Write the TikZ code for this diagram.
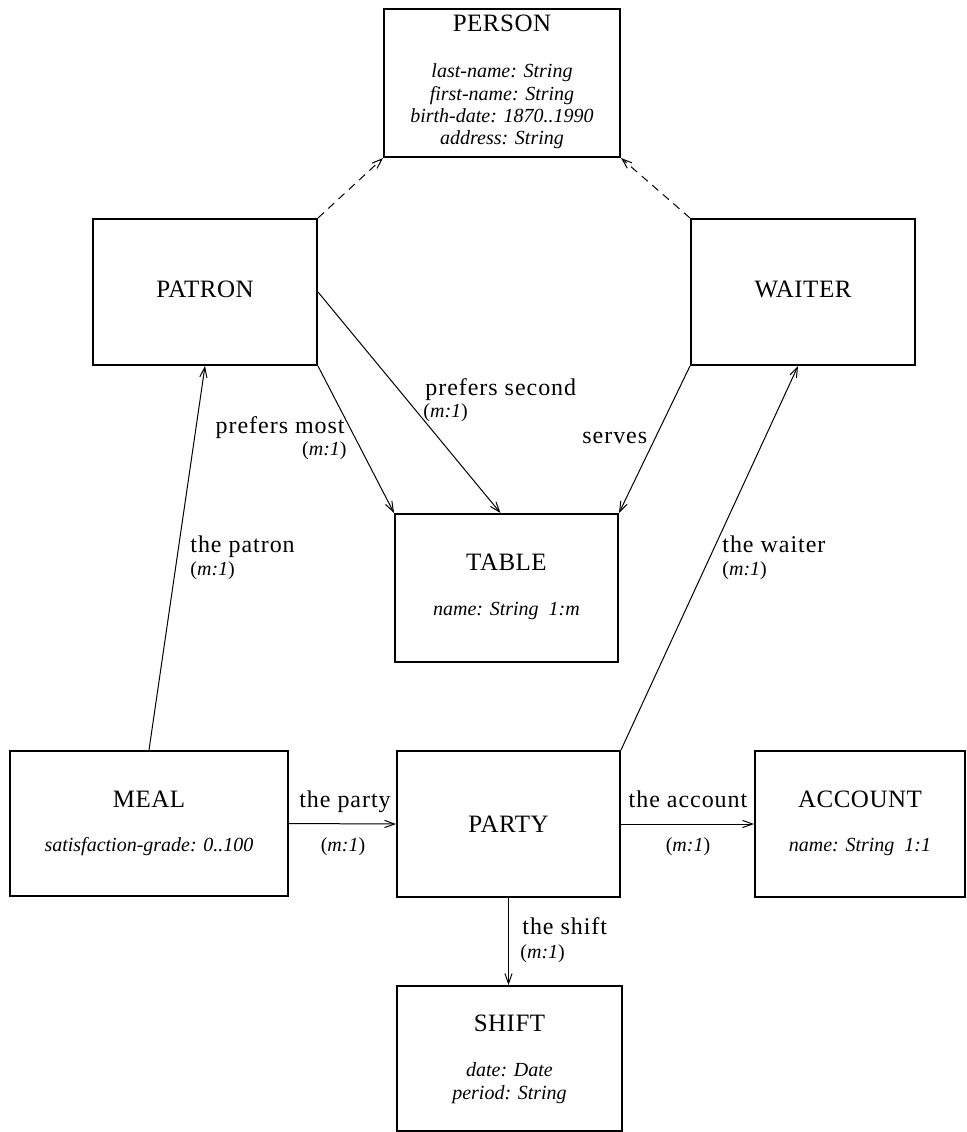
\documentclass[tikz,border=0pt]{standalone}
\usepackage{fontspec}
\setmainfont{Liberation Serif}
\newfontfamily\ttlfont[LetterSpace=2]{Liberation Serif}
\newfontfamily\lblfont[LetterSpace=4]{Liberation Serif}
\usetikzlibrary{arrows.meta}
\begin{document}
\begin{tikzpicture}[x=0.5pt,y=-0.5pt,
  ebox/.style={draw, line width=1pt, inner sep=0pt},
  ttl/.style={font=\ttlfont\fontsize{12.5}{15}\selectfont, anchor=base, inner sep=0pt},
  attr/.style={font=\itshape\fontsize{10}{12}\selectfont, anchor=base, inner sep=0pt},
  lbl/.style={font=\lblfont\fontsize{12}{14}\selectfont, inner sep=0pt},
  card/.style={font=\fontsize{10}{12}\selectfont, inner sep=0pt},
  rel/.style={line width=0.5pt, -{Straight Barb[length=5pt,width=3.6pt]}},
  isa/.style={rel, dash pattern=on 4pt off 3pt}]
\useasboundingbox (0,0) rectangle (966,1132);

% boxes
\node[ebox, minimum width=118pt, minimum height=74pt] (person) at (502,83) {};
\node[ebox, minimum width=112pt, minimum height=73pt] (patron) at (205,292) {};
\node[ebox, minimum width=112pt, minimum height=73pt] (waiter) at (803,292) {};
\node[ebox, minimum width=111.5pt, minimum height=74pt] (table) at (506.5,588) {};
\node[ebox, minimum width=139pt, minimum height=72.5pt] (meal) at (149,823.5) {};
\node[ebox, minimum width=111.5pt, minimum height=73pt] (party) at (508.5,824) {};
\node[ebox, minimum width=105pt, minimum height=73pt] (account) at (860,824) {};
\node[ebox, minimum width=112.5pt, minimum height=72.5pt] (shift) at (509.5,1058.5) {};

% titles and attributes
\node[ttl] (personT) at (502,31) {PERSON};
\node[attr] (personA1) at (502,77) {last-name: String};
\node[attr] (personA2) at (502,100) {first-name: String};
\node[attr] (personA3) at (502,122) {birth-date: 1870..1990};
\node[attr] (personA4) at (502,144) {address: String};
\node[ttl] (patronT) at (205,297) {PATRON};
\node[ttl] (waiterT) at (803,297) {WAITER};
\node[ttl] (tableT) at (506.5,570) {TABLE};
\node[attr] (tableA) at (506.5,615) {name: String~~1:m};
\node[ttl] (mealT) at (149,807) {MEAL};
\node[attr] (mealA) at (149,851) {satisfaction-grade: 0..100};
\node[ttl] (partyT) at (508.5,832) {PARTY};
\node[ttl] (accountT) at (860,807) {ACCOUNT};
\node[attr] (accountA) at (860,851) {name: String~~1:1};
\node[ttl] (shiftT) at (509.5,1031) {SHIFT};
\node[attr] (shiftA1) at (509.5,1076) {date: Date};
\node[attr] (shiftA2) at (509.5,1099) {period: String};

% connectors
\draw[isa] (patron.north east) -- (person.south west);
\draw[isa] (waiter.north west) -- (person.south east);
\draw[rel] (patron.south east) -- (table.north west);
\draw[rel] (patron.east) -- ([xshift=-3pt]table.north);
\draw[rel] (waiter.south west) -- (table.north east);
\draw[rel] (meal.north) -- (patron.south);
\draw[rel] (party.north east) -- ([xshift=-2.5pt]waiter.south);
\draw[rel] (meal.east) -- (party.west);
\draw[rel] (party.east) -- (account.west);
\draw[rel] (party.south) -- (party.south |- shift.north);

% labels
\node[lbl, anchor=base east] (lPm) at (345,433) {prefers most};
\node[card, anchor=base east] (cPm) at (347,455) {(\textit{m:1})};
\node[lbl, anchor=base west] (lPs) at (425,395) {prefers second};
\node[card, anchor=base west] (cPs) at (423,417) {(\textit{m:1})};
\node[lbl, anchor=base west] (lSv) at (582,443) {serves};
\node[lbl, anchor=base west] (lPa) at (190,552) {the patron};
\node[card, anchor=base west] (cPa) at (190,575) {(\textit{m:1})};
\node[lbl, anchor=base west] (lWa) at (722,552) {the waiter};
\node[card, anchor=base west] (cWa) at (722,575) {(\textit{m:1})};
\node[lbl, anchor=base] (lPy) at (345,807) {the party};
\node[card, anchor=base] (cPy) at (343,851) {(\textit{m:1})};
\node[lbl, anchor=base] (lAc) at (688,807) {the account};
\node[card, anchor=base] (cAc) at (688,851) {(\textit{m:1})};
\node[lbl, anchor=base west] (lSh) at (522,934) {the shift};
\node[card, anchor=base west] (cSh) at (520,958) {(\textit{m:1})};
\end{tikzpicture}
\end{document}
